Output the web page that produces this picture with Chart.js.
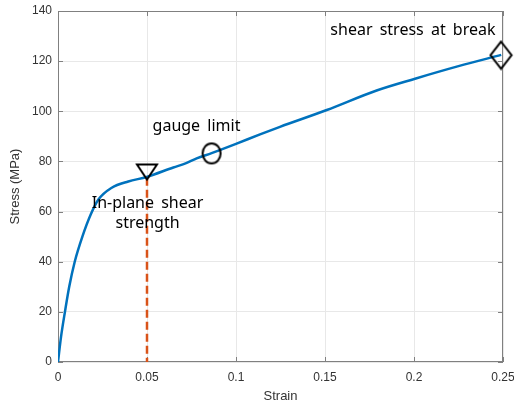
<!DOCTYPE html>
<html>
<head>
<meta charset="utf-8">
<script src="https://cdn.jsdelivr.net/npm/chart.js@4/dist/chart.umd.min.js"></script>
<style>
    html, body { margin: 0; padding: 0; background: #fff; }
</style>
</head>
<body>
<canvas id="stressChart" width="514" height="406"></canvas>
<script>
// Stress-strain curve, values
const strain = [0, 0.0017, 0.0039, 0.0063, 0.0094, 0.0137, 0.0185, 0.0227, 0.0302, 0.0395, 0.0498, 0.0648, 0.072, 0.0779, 0.0863, 0.1, 0.1135, 0.1247, 0.151, 0.179, 0.2006, 0.225, 0.249];
const stress = [0, 10, 20, 30, 40, 50, 59, 64.8, 69.5, 72, 73.8, 77.6, 79.3, 81.2, 83.3, 87, 90.8, 93.8, 100.5, 108.3, 113, 118, 122.5];

// Markers: in-plane shear strength, gauge limit, break
const markStrain = [0.05, 0.0863, 0.2489];
const markStress = [76, 83.2, 122.4];

// Dashed drop line at the shear strength
const dropStrain = [0.05, 0.05];
const dropStress = [73.5, 0];

// Ticks
const xTicks = [0, 0.05, 0.1, 0.15, 0.2, 0.25];
const xTickLabels = ['0', '0.05', '0.1', '0.15', '0.2', '0.25'];
const yTicks = [0, 20, 40, 60, 80, 100, 120, 140];
const yTickLabels = ['0', '20', '40', '60', '80', '100', '120', '140'];

// Text notes (text baseline in data units)
const noteText = ['shear stress at break', 'gauge limit', 'In-plane shear', 'strength'];
const noteX = [0.1994, 0.0778, 0.0503, 0.0503];
const noteY = [130.5, 92.3, 61.4, 53.6];

function toPoints(xs, ys) {
    return xs.map(function(x, i) { return {x: x, y: ys[i]}; });
}

// Marker glyphs
function markerCanvas(w, h, draw) {
    const c = document.createElement('canvas');
    c.width = w;
    c.height = h;
    const g = c.getContext('2d');
    g.strokeStyle = '#000';
    g.lineWidth = 2;
    g.beginPath();
    draw(g, w, h);
    g.stroke();
    return c;
}
const triangleDown = markerCanvas(24, 20, function(g, w, h) {
    g.moveTo(2, 3); g.lineTo(w - 2, 3); g.lineTo(w / 2, h - 2); g.closePath();
});
const openCircle = markerCanvas(22, 24, function(g, w, h) {
    g.ellipse(w / 2, h / 2, 9, 10, 0, 0, Math.PI * 2);
});
const diamond = markerCanvas(25, 31, function(g, w, h) {
    g.moveTo(w / 2, 2); g.lineTo(w - 2, h / 2); g.lineTo(w / 2, h - 2); g.lineTo(2, h / 2); g.closePath();
});

const axisColor = '#808080';
const tickColor = '#333333';

// Box round the plot with inward ticks, plus the notes
const framePlugin = {
    id: 'frame',
    beforeDatasetsDraw(chart) {
        const ctx = chart.ctx;
        const a = chart.chartArea;
        const xs = chart.scales.x, ys = chart.scales.y;
        ctx.save();
        ctx.strokeStyle = axisColor;
        ctx.lineWidth = 1;
        ctx.strokeRect(a.left + 0.5, a.top + 0.5, a.right - a.left - 1, a.bottom - a.top - 1);
        ctx.beginPath();
        xTicks.forEach(function(v) {
            const px = Math.round(xs.getPixelForValue(v)) + 0.5;
            ctx.moveTo(px, a.bottom); ctx.lineTo(px, a.bottom - 5);
            ctx.moveTo(px, a.top); ctx.lineTo(px, a.top + 5);
        });
        yTicks.forEach(function(v) {
            const py = Math.round(ys.getPixelForValue(v)) + 0.5;
            ctx.moveTo(a.left, py); ctx.lineTo(a.left + 5, py);
            ctx.moveTo(a.right, py); ctx.lineTo(a.right - 5, py);
        });
        ctx.stroke();
        ctx.restore();
    },
    afterDatasetsDraw(chart) {
        const ctx = chart.ctx;
        const xs = chart.scales.x, ys = chart.scales.y;
        ctx.save();
        ctx.fillStyle = '#000';
        ctx.font = '16px "Noto Sans"';
        ctx.wordSpacing = '3px';
        ctx.textAlign = 'center';
        ctx.textBaseline = 'alphabetic';
        noteText.forEach(function(t, i) {
            ctx.fillText(t, xs.getPixelForValue(noteX[i]), ys.getPixelForValue(noteY[i]));
        });
        ctx.restore();
    }
};

const ctx = document.getElementById('stressChart').getContext('2d');
const stressChart = new Chart(ctx, {
    type: 'scatter',
    data: {
        datasets: [
            {
                label: 'markers',
                data: toPoints(markStrain, markStress),
                pointStyle: [triangleDown, openCircle, diamond],
                pointRadius: 10,
                showLine: false,
                clip: false,
                order: 0
            },
            {
                label: 'curve',
                data: toPoints(strain, stress),
                showLine: true,
                borderColor: '#0072BD',
                borderWidth: 2.5,
                pointRadius: 0,
                cubicInterpolationMode: 'monotone',
                order: 1
            },
            {
                label: 'drop',
                data: toPoints(dropStrain, dropStress),
                showLine: true,
                borderColor: '#D95319',
                borderWidth: 2.5,
                borderDash: [8, 4],
                pointRadius: 0,
                order: 2
            }
        ]
    },
    options: {
        responsive: false,
        animation: false,
        layout: {
            padding: {top: 9, right: 11, left: 0, bottom: 0}
        },
        plugins: {
            legend: {display: false},
            tooltip: {enabled: false}
        },
        scales: {
            x: {
                type: 'linear',
                min: 0,
                max: 0.25,
                afterBuildTicks: function(scale) {
                    scale.ticks = xTicks.map(function(v) { return {value: v}; });
                },
                afterFit: function(scale) {
                    scale.height = 44;
                    scale.paddingLeft = 0;
                    scale.paddingRight = 0;
                },
                grid: {
                    color: '#e8e8e8',
                    drawTicks: false
                },
                border: {display: false},
                ticks: {
                    color: tickColor,
                    padding: 8,
                    maxRotation: 0,
                    autoSkip: false,
                    font: {family: '"Liberation Sans", Arial', size: 12},
                    callback: function(value, index) { return xTickLabels[index]; }
                },
                title: {
                    display: true,
                    text: 'Strain',
                    color: tickColor,
                    padding: {top: 0, bottom: 2},
                    font: {family: '"Liberation Sans", Arial', size: 13}
                }
            },
            y: {
                type: 'linear',
                min: 0,
                max: 140,
                afterBuildTicks: function(scale) {
                    scale.ticks = yTicks.map(function(v) { return {value: v}; });
                },
                afterFit: function(scale) {
                    scale.width = 58;
                    scale.paddingTop = 0;
                    scale.paddingBottom = 0;
                },
                grid: {
                    color: '#e8e8e8',
                    drawTicks: false
                },
                border: {display: false},
                ticks: {
                    color: tickColor,
                    padding: 6,
                    autoSkip: false,
                    font: {family: '"Liberation Sans", Arial', size: 12},
                    callback: function(value, index) { return yTickLabels[index]; }
                },
                title: {
                    display: true,
                    text: 'Stress (MPa)',
                    color: tickColor,
                    padding: {top: 8, bottom: 0},
                    font: {family: '"Liberation Sans", Arial', size: 13}
                }
            }
        }
    },
    plugins: [framePlugin]
});
</script>
</body>
</html>
